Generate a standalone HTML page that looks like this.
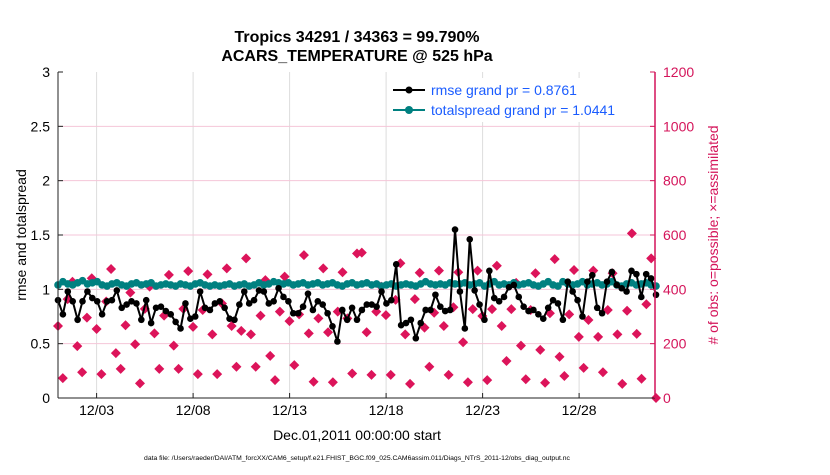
<!DOCTYPE html>
<html><head><meta charset="utf-8"><style>
body{margin:0;background:#fff;}
svg text{font-family:"Liberation Sans",Arial,sans-serif;}
</style></head><body>
<svg width="830" height="470" viewBox="0 0 830 470">
<g id="grid"></g>
<g id="pinks"></g>
<g id="spread"></g>
<g id="rmse"></g>
<g id="axes"></g>
<text x="357" y="42" text-anchor="middle" font-size="16" font-weight="bold">Tropics 34291 / 34363 = 99.790%</text>
<text x="357" y="61" text-anchor="middle" font-size="16" font-weight="bold">ACARS_TEMPERATURE @ 525 hPa</text>
<text transform="translate(26,235) rotate(-90)" text-anchor="middle" font-size="14">rmse and totalspread</text>
<text transform="translate(718,235) rotate(-90)" text-anchor="middle" font-size="14" fill="#d4145a"># of obs: o=possible; ×=assimilated</text>
<text x="357" y="440" text-anchor="middle" font-size="14">Dec.01,2011 00:00:00 start</text>
<text x="357" y="460" text-anchor="middle" font-size="6.8">data file: /Users/raeder/DAI/ATM_forcXX/CAM6_setup/f.e21.FHIST_BGC.f09_025.CAM6assim.011/Diags_NTrS_2011-12/obs_diag_output.nc</text>
<g>
<rect x="388" y="78" width="262" height="44" fill="#fff"/>
<line x1="393" y1="90" x2="425" y2="90" stroke="#000" stroke-width="2"/>
<circle cx="409" cy="90" r="3.5" fill="#000"/>
<text x="431" y="95" font-size="14" fill="#1a5cff">rmse grand pr = 0.8761</text>
<line x1="393" y1="110" x2="425" y2="110" stroke="#008080" stroke-width="2"/>
<circle cx="409" cy="110" r="4" fill="#008080"/>
<text x="431" y="115" font-size="14" fill="#1a5cff">totalspread grand pr = 1.0441</text>
</g>
</svg>
<script>
const rmseVals=[0.90,0.77,0.98,0.89,0.72,0.89,0.98,0.92,0.89,0.77,0.89,0.90,0.99,0.83,0.86,0.89,0.87,0.72,0.90,0.69,0.83,0.84,0.80,0.77,0.70,0.64,0.87,0.73,0.75,0.98,0.83,0.81,
0.87,0.89,0.83,0.73,0.72,0.86,0.98,0.87,0.90,0.99,0.98,0.87,0.89,1.01,0.93,0.89,0.78,0.78,0.84,0.96,0.81,0.89,0.86,0.78,0.66,0.52,0.81,0.72,0.83,0.72,0.81,
0.86,0.86,0.84,0.98,0.87,0.90,1.23,0.67,0.69,0.72,0.55,0.69,0.81,0.81,0.95,0.84,0.80,0.81,1.55,0.98,0.64,1.46,0.99,0.86,0.72,1.17,0.92,0.89,0.93,1.02,
1.04,0.93,0.84,0.80,0.81,0.77,0.73,0.83,0.90,0.87,0.72,1.07,0.98,0.90,0.75,1.07,1.13,0.83,0.78,1.07,1.16,1.04,1.01,0.98,1.17,1.14,0.93,1.14,1.10,0.95];
const spreadVals=[1.04,1.07,1.05,1.04,1.06,1.08,1.05,1.06,1.07,1.04,1.03,1.05,1.06,1.04,1.03,1.05,1.06,1.04,1.05,1.06,1.03,1.04,1.05,1.04,1.03,1.05,1.04,1.03,1.05,1.06,1.04,1.03,
1.04,1.03,1.04,1.05,1.03,1.04,1.05,1.03,1.04,1.06,1.04,1.05,1.07,1.06,1.05,1.06,1.04,1.05,1.06,1.04,1.05,1.06,1.04,1.05,1.06,1.04,1.03,1.05,1.06,1.04,1.05,
1.06,1.04,1.05,1.03,1.04,1.05,1.03,1.04,1.05,1.04,1.03,1.05,1.07,1.05,1.04,1.05,1.04,1.06,1.05,1.05,1.06,1.04,1.05,1.06,1.03,1.05,1.07,1.04,1.05,1.04,
1.06,1.04,1.05,1.06,1.04,1.03,1.05,1.07,1.04,1.03,1.07,1.05,1.04,1.05,1.07,1.04,1.05,1.06,1.04,1.05,1.07,1.04,1.03,1.05,1.06,1.04,1.05,1.06,1.04,1.03];
const obsVals=[265,73,364,428,191,95,296,441,254,88,355,475,165,107,268,388,198,54,328,410,238,107,303,453,193,107,328,467,262,88,324,455,
234,88,348,477,265,115,247,514,234,115,303,434,155,66,318,447,283,121,308,526,238,60,293,477,242,58,318,463,293,90,532,
535,242,85,318,410,305,85,361,496,234,52,364,461,259,115,314,469,265,85,334,463,205,58,327,469,302,66,327,487,265,136,
327,424,193,69,324,459,177,56,312,511,152,81,308,471,225,111,287,469,225,95,324,459,234,52,321,606,236,71,345,514,0];
const xTickDays=[2,7,12,17,22,27];
const xTickLabels=["12/03","12/08","12/13","12/18","12/23","12/28"];
const yTickLabels=["0","0.5","1","1.5","2","2.5","3"];
const y2TickLabels=["0","200","400","600","800","1000","1200"];
const NS="http://www.w3.org/2000/svg";
const X0=58,X1=655,Y0=398,Y1=72,DAYPX=19.3;
function xDay(d){return X0+d*DAYPX;}
function yL(v){return Y0-(v/3)*(Y0-Y1);}
function yR(v){return Y0-(v/1200)*(Y0-Y1);}
function xIdx(i,n){return X0+i*(X1-X0+1)/(n-1);}
function mk(tag,attrs,parent){const e=document.createElementNS(NS,tag);for(const k in attrs)e.setAttribute(k,attrs[k]);parent.appendChild(e);return e;}
const grid=document.getElementById('grid'),axes=document.getElementById('axes');
xTickLabels.forEach((t,i)=>{const x=xDay(xTickDays[i]);
 const g=mk('line',{x1:x,y1:Y1,x2:x,y2:Y0,stroke:'#dcdcdc','stroke-width':1},grid);
 
 
 mk('line',{x1:x,y1:Y0,x2:x,y2:Y0-5,stroke:'#222'},axes);
 const tx=mk('text',{x:x,y:Y0+17,'text-anchor':'middle','font-size':14},axes);tx.textContent=t;
 
 
});
yTickLabels.forEach((t,i)=>{const y=yL(i*0.5);
 if(i>0&&i<6){const g=mk('line',{x1:X0,y1:y,x2:X1,y2:y,stroke:'#f5c6d8','stroke-width':1},grid);
 
 }
 mk('line',{x1:X0,y1:y,x2:X0+5,y2:y,stroke:'#222'},axes);
 const tx=mk('text',{x:X0-8,y:y+5,'text-anchor':'end','font-size':14},axes);tx.textContent=t;
 
 
});
y2TickLabels.forEach((t,i)=>{const y=yR(i*200);
 mk('line',{x1:X1,y1:y,x2:X1-5,y2:y,stroke:'#d4145a'},axes);
 const tx=mk('text',{x:X1+8,y:y+5,'font-size':14,fill:'#d4145a'},axes);tx.textContent=t;
 
 
});
mk('line',{x1:X0,y1:Y1,x2:X0,y2:Y0,stroke:'#222'},axes);
mk('line',{x1:X0,y1:Y0,x2:X1,y2:Y0,stroke:'#222'},axes);
mk('line',{x1:X1,y1:Y1,x2:X1,y2:Y0,stroke:'#d4145a','stroke-width':1.5},axes);
const pg=document.getElementById('pinks');
obsVals.forEach((v,i)=>{const x=xIdx(i,obsVals.length),y=yR(v);
 const p=mk('path',{d:`M${x} ${y-5}L${x+5} ${y}L${x} ${y+5}L${x-5} ${y}Z`,fill:'#dc145a'},pg);
 
 
});
function series(vals,g,col,w,r,name){
 const pts=vals.map((v,i)=>[xIdx(i,vals.length),yL(v)]);
 const pl=mk('polyline',{points:pts.map(p=>p.join(',')).join(' '),fill:'none',stroke:col,'stroke-width':w},g);
 
 
 pts.forEach(p=>{const c=mk('circle',{cx:p[0],cy:p[1],r:r,fill:col},g);
  
  });
}
series(spreadVals,document.getElementById('spread'),'#008080',2,3.8,'totalspread');
series(rmseVals,document.getElementById('rmse'),'#000',2,3.3,'rmse');
</script>
</body></html>
